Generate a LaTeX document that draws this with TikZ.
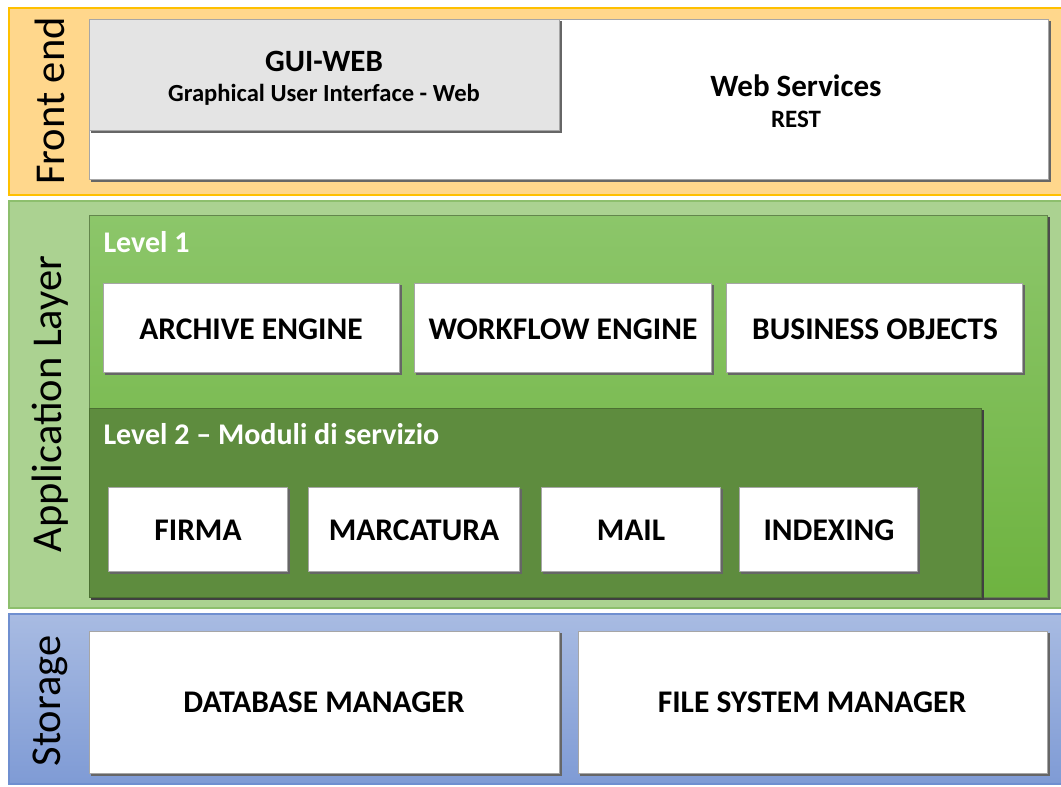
\documentclass[tikz,border=0pt]{standalone}
\usepackage{fontspec}
\setmainfont{Carlito}
\definecolor{feFill}{HTML}{FFD78C}
\definecolor{feLine}{HTML}{FFC000}
\definecolor{alFill}{HTML}{ABD291}
\definecolor{alLine}{HTML}{8DBF6D}
\definecolor{lvOneTop}{HTML}{8CC66A}
\definecolor{lvOneBot}{HTML}{6EB340}
\definecolor{lvTwo}{HTML}{5E8C3E}
\definecolor{stTop}{HTML}{A8BBE2}
\definecolor{stBot}{HTML}{7F9BD5}
\definecolor{stLine}{HTML}{6F8FD0}
\definecolor{guiFill}{HTML}{E4E4E4}
\tikzset{
  band/.style={line width=1.2pt},
  shadowbox/.style={fill=black!60},
  modbox/.style={draw=black!35, line width=0.5pt, fill=white},
  modtext/.style={font=\bfseries\fontsize{31.5}{34}\selectfont, text=black},
  sidelabel/.style={rotate=90, font=\fontsize{42.5}{46}\selectfont, text=black},
  lvlabel/.style={anchor=west, font=\bfseries\fontsize{30}{34}\selectfont, text=white},
}
\begin{document}
\begin{tikzpicture}[x=1pt,y=-1pt]
\useasboundingbox (0,0) rectangle (1061,787);
\fill[white] (0,0) rectangle (1061,787);
% ---------------- Front end
\draw[band, draw=feLine, fill=feFill] (9,8) rectangle (1064,195);
\node[sidelabel] (fe) at (50,101) {Front end};
\fill[shadowbox] (91,21) rectangle (1051,182);
\draw[modbox] (89,19) rectangle (1048,179);
\fill[shadowbox] (91,21) rectangle (562,133);
\draw[modbox, fill=guiFill] (89,19) rectangle (559,130);
\node[font=\bfseries\fontsize{31}{34}\selectfont] (gui) at (324,61) {GUI-WEB};
\node[font=\bfseries\fontsize{24.6}{28}\selectfont] (guisub) at (324,95) {Graphical User Interface - Web};
\node[font=\bfseries\fontsize{31}{34}\selectfont] (ws) at (796,86) {Web Services};
\node[font=\bfseries\fontsize{25}{28}\selectfont] (rest) at (796,119) {REST};
% ---------------- Application layer
\draw[band, draw=alLine, fill=alFill] (9,201) rectangle (1064,608);
\node[sidelabel] (al) at (50,404) {Application Layer};
\fill[black!70] (91,217) rectangle (1050,600);
\shade[top color=lvOneTop, bottom color=lvOneBot] (89,215) rectangle (1047,597);
\draw[alLine!70!black, line width=0.5pt] (89,215) rectangle (1047,597);
\node[lvlabel] (l1) at (100,242) {Level 1};
\fill[shadowbox] (105,285) rectangle (402,375);
\draw[modbox] (103,283) rectangle (399,372);
\node[modtext] (ae) at (251,329) {ARCHIVE ENGINE};
\fill[shadowbox] (416,285) rectangle (714,375);
\draw[modbox] (414,283) rectangle (711,372);
\node[modtext] (we) at (563,329) {WORKFLOW ENGINE};
\fill[shadowbox] (728,285) rectangle (1025,375);
\draw[modbox] (726,283) rectangle (1022,372);
\node[modtext] (bo) at (875,329) {BUSINESS OBJECTS};
% level 2
\fill[black!75] (91,410) rectangle (984,600);
\fill[lvTwo] (89,408) rectangle (981,597);
\draw[lvTwo!80!black, line width=0.5pt] (89,408) rectangle (981,597);
\node[lvlabel] (l2) at (100,434) {Level 2 -- Moduli di servizio};
\fill[shadowbox] (110,489) rectangle (290,574);
\draw[modbox] (108,487) rectangle (287,571);
\node[modtext] (fi) at (198,530) {FIRMA};
\fill[shadowbox] (310,489) rectangle (522,574);
\draw[modbox] (308,487) rectangle (519,571);
\node[modtext] (ma) at (414,530) {MARCATURA};
\fill[shadowbox] (543,489) rectangle (723,574);
\draw[modbox] (541,487) rectangle (720,571);
\node[modtext] (mail) at (631,530) {MAIL};
\fill[shadowbox] (741,489) rectangle (920,574);
\draw[modbox] (739,487) rectangle (917,571);
\node[modtext] (ix) at (829,530) {INDEXING};
% ---------------- Storage
\shade[top color=stTop, bottom color=stBot] (9,614) rectangle (1064,784);
\draw[band, draw=stLine] (9,614) rectangle (1064,784);
\node[sidelabel] (st) at (50,701) {Storage};
\fill[shadowbox] (91,633) rectangle (562,776);
\draw[modbox] (89,631) rectangle (559,773);
\node[modtext] (db) at (324,702) {DATABASE MANAGER};
\fill[shadowbox] (580,633) rectangle (1050,776);
\draw[modbox] (578,631) rectangle (1047,773);
\node[modtext] (fs) at (812,702) {FILE SYSTEM MANAGER};
\end{tikzpicture}
\end{document}
